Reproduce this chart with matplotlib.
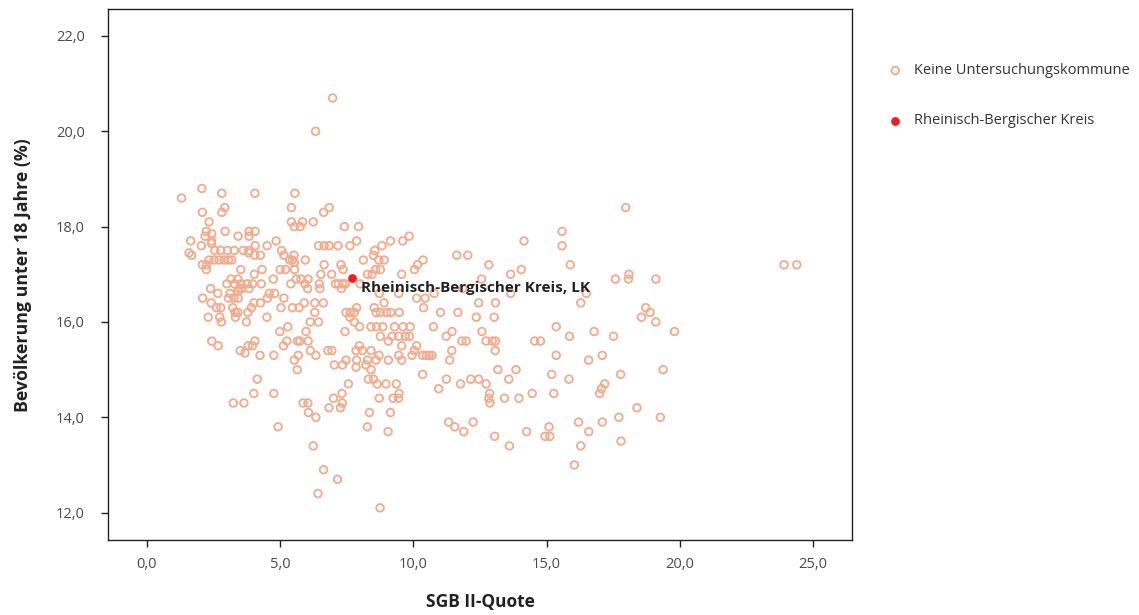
import matplotlib

matplotlib.use("Agg")
import matplotlib.pyplot as plt
from matplotlib.ticker import FuncFormatter

# SGB II-Quote (x) und Anteil der Bevölkerung unter 18 Jahren (y) je Kommune
sgb_quote = [
    1.30, 2.06, 2.81, 4.05, 5.55, 2.92, 2.81, 2.08, 2.33, 5.42,
    5.42, 5.53, 2.23, 2.43, 2.18, 2.93, 3.42, 3.83, 4.06, 3.83,
    1.64, 2.42, 2.42, 2.04, 4.06, 4.51, 4.85, 2.55, 2.77, 3.02,
    3.61, 3.83, 3.81, 4.05, 4.26, 5.05, 5.14, 5.52, 1.58, 1.68,
    3.27, 2.33, 2.52, 2.71, 2.89, 3.06, 3.18, 2.08, 2.23, 2.23,
    5.36, 5.46, 5.53, 3.52, 4.32, 5.00, 5.20, 5.54, 4.03, 3.16,
    3.41, 4.74, 5.60, 3.00, 3.28, 3.53, 3.77, 3.96, 4.29, 5.40,
    3.46, 3.42, 3.56, 3.83, 2.39, 2.66, 3.12, 4.59, 4.79, 2.09,
    3.06, 3.27, 3.43, 4.52, 5.14, 2.41, 4.01, 4.26, 2.61, 2.77,
    3.22, 3.92, 5.03, 5.46, 3.31, 3.41, 3.79, 2.30, 2.73, 2.79,
    3.32, 3.73, 4.50, 5.29,
    2.43, 2.67, 3.50, 3.68, 3.80, 3.96, 4.05, 4.24, 4.76, 4.99,
    5.25, 5.12, 5.65, 5.53, 5.68, 5.64, 4.14, 4.01, 3.24, 3.64,
    4.76, 4.92,
    6.97, 6.33, 6.84, 6.63, 5.84, 6.24, 7.41, 7.94, 6.44, 6.65,
    6.84, 7.17, 7.62, 7.87, 8.82, 9.14, 9.60, 9.84, 5.94, 6.65,
    7.28, 7.36, 8.12, 8.55, 8.50, 8.70, 8.90, 8.76, 8.58, 10.04,
    10.15, 10.36, 8.28, 8.45, 9.56, 6.53, 6.93, 5.78, 6.05, 5.93,
    6.47, 7.07, 7.18, 7.34, 7.44, 6.49, 6.03, 7.30, 8.00, 8.72,
    9.45, 10.12, 10.44, 10.78, 5.90, 6.30, 6.62, 7.47, 7.63, 7.78,
    7.87, 8.53, 8.60, 8.76, 8.90, 9.00, 9.15, 9.47, 10.38, 6.30,
    6.13, 6.44, 7.62, 7.78, 7.98, 8.41, 8.61, 8.85, 9.29, 9.61,
    9.88, 10.75, 5.75, 5.71,
    5.97, 7.43, 8.76, 9.20, 9.45, 9.70, 9.85, 5.74, 6.05, 6.13,
    6.34, 6.79, 6.94, 7.97, 7.85, 8.08, 8.41, 9.06, 9.56, 10.12,
    10.03, 9.95, 10.34, 10.48, 10.59, 10.70, 8.71, 8.60, 9.06, 9.45,
    9.56, 7.87, 8.28, 7.03, 7.34, 7.47, 7.85, 8.22, 8.41, 10.35,
    7.56, 8.31, 8.50, 8.64, 8.97, 9.36, 10.95, 7.32, 7.00, 7.33,
    7.26, 6.83, 5.86, 6.04, 6.06, 6.34, 8.72, 9.24, 9.44, 9.46,
    8.35, 9.14, 8.27, 9.05, 6.24, 6.63, 7.15, 6.42, 8.75,
    15.58, 14.15, 15.58, 11.63, 12.04, 12.83, 15.89, 14.05, 13.65, 12.56,
    17.58, 11.85, 13.65, 16.49, 12.45, 13.08, 16.28, 11.02, 11.67, 12.36,
    13.03, 15.36,
    11.23, 11.45, 11.82, 11.98, 12.57, 12.73, 12.96, 13.08, 13.07, 11.44,
    11.36, 14.55, 14.77, 15.86, 16.78, 15.36, 16.58, 13.17, 13.85, 13.58,
    15.19, 15.84, 11.24, 11.77, 12.15, 12.45, 12.73, 12.86, 12.83, 12.87,
    13.42, 13.96, 14.46, 15.27, 11.32, 11.55, 11.89, 12.24, 13.05, 13.60,
    14.25, 15.09, 14.94, 15.12, 16.20, 16.58, 16.28, 16.04,
    17.97, 23.91, 24.39, 18.09, 18.07, 19.10, 18.72, 18.56, 18.88, 19.10,
    17.51, 17.09, 17.78, 19.37, 17.18, 17.06, 16.99, 18.39, 17.71, 19.27,
    17.09, 17.79, 19.80,
]
u18_anteil = [
    18.6, 18.8, 18.7, 18.7, 18.7, 18.4, 18.3, 18.3, 18.1, 18.4,
    18.1, 18.0, 17.9, 17.85, 17.8, 17.9, 17.8, 17.9, 17.9, 17.8,
    17.7, 17.7, 17.65, 17.6, 17.6, 17.6, 17.7, 17.5, 17.5, 17.5,
    17.5, 17.5, 17.45, 17.4, 17.4, 17.5, 17.4, 17.4, 17.45, 17.4,
    17.5, 17.3, 17.3, 17.3, 17.3, 17.3, 17.3, 17.2, 17.2, 17.1,
    17.3, 17.3, 17.25, 17.1, 17.1, 17.1, 17.1, 17.1, 17.0, 16.9,
    16.9, 16.9, 16.9, 16.8, 16.8, 16.8, 16.8, 16.8, 16.8, 16.8,
    16.7, 16.65, 16.7, 16.7, 16.7, 16.6, 16.6, 16.6, 16.6, 16.5,
    16.5, 16.5, 16.5, 16.5, 16.5, 16.4, 16.4, 16.4, 16.3, 16.3,
    16.3, 16.3, 16.3, 16.3, 16.2, 16.2, 16.2, 16.1, 16.1, 16.0,
    16.1, 16.0, 16.1, 15.9,
    15.6, 15.5, 15.4, 15.35, 15.5, 15.5, 15.6, 15.3, 15.3, 15.8,
    15.6, 15.5, 15.6, 15.2, 15.3, 15.0, 14.8, 14.5, 14.3, 14.3,
    14.5, 13.8,
    20.7, 20.0, 18.4, 18.3, 18.1, 18.1, 18.0, 18.0, 17.6, 17.6,
    17.6, 17.6, 17.6, 17.7, 17.6, 17.7, 17.7, 17.8, 17.3, 17.2,
    17.2, 17.1, 17.3, 17.5, 17.4, 17.3, 17.3, 17.1, 17.1, 17.1,
    17.2, 17.3, 17.0, 17.0, 17.0, 17.0, 17.0, 16.9, 16.9, 16.8,
    16.8, 16.8, 16.8, 16.8, 16.8, 16.7, 16.7, 16.7, 16.8, 16.6,
    16.6, 16.5, 16.5, 16.6, 16.4, 16.4, 16.4, 16.2, 16.2, 16.2,
    16.3, 16.3, 16.2, 16.2, 16.4, 16.2, 16.2, 16.2, 16.3, 16.2,
    16.0, 16.0, 16.1, 16.0, 15.9, 15.9, 15.9, 15.9, 15.9, 15.9,
    15.9, 15.9, 18.0, 16.3,
    15.8, 15.8, 15.7, 15.7, 15.7, 15.7, 15.7, 15.6, 15.6, 15.4,
    15.3, 15.4, 15.4, 15.5, 15.4, 15.4, 15.4, 15.6, 15.5, 15.5,
    15.4, 15.3, 15.3, 15.3, 15.3, 15.3, 15.3, 15.2, 15.2, 15.3,
    15.2, 15.2, 15.2, 15.1, 15.1, 15.2, 15.05, 15.1, 15.0, 14.9,
    14.7, 14.8, 14.8, 14.7, 14.7, 14.7, 14.6, 14.5, 14.4, 14.3,
    14.2, 14.2, 14.3, 14.3, 14.1, 14.0, 14.4, 14.4, 14.4, 14.5,
    14.1, 14.1, 13.8, 13.7, 13.4, 12.9, 12.7, 12.4, 12.1,
    17.9, 17.7, 17.6, 17.4, 17.4, 17.2, 17.2, 17.1, 17.0, 16.9,
    16.9, 16.7, 16.6, 16.6, 16.4, 16.4, 16.4, 16.2, 16.2, 16.1,
    16.1, 15.9,
    15.7, 15.8, 15.6, 15.6, 15.8, 15.6, 15.6, 15.6, 15.4, 15.4,
    15.2, 15.6, 15.6, 15.7, 15.8, 15.3, 15.2, 15.0, 15.0, 14.8,
    14.9, 14.8, 14.8, 14.7, 14.8, 14.8, 14.7, 14.5, 14.4, 14.3,
    14.4, 14.4, 14.5, 14.5, 13.9, 13.8, 13.7, 13.9, 13.6, 13.4,
    13.7, 13.8, 13.6, 13.6, 13.9, 13.7, 13.4, 13.0,
    18.4, 17.2, 17.2, 17.0, 16.9, 16.9, 16.3, 16.1, 16.2, 16.0,
    15.7, 15.3, 14.9, 15.0, 14.7, 14.6, 14.5, 14.2, 14.0, 14.0,
    13.9, 13.5, 15.8,
]

# hervorgehobene Kommune
rbk_name = "Rheinisch-Bergischer Kreis, LK"
rbk_quote = 7.68
rbk_u18 = 16.92

x_ticks = [0, 5, 10, 15, 20, 25]
y_ticks = [12, 14, 16, 18, 20, 22]

plt.rcParams["font.family"] = ["Open Sans", "DejaVu Sans"]

fig = plt.figure(figsize=(11.39, 6.15), dpi=100)
ax = fig.add_axes([0.0951, 0.1215, 0.6529, 0.8634])

ax.scatter(sgb_quote, u18_anteil, s=30, facecolors="none", edgecolors="#F6A98A",
           linewidths=1.3, label="Keine Untersuchungskommune", zorder=2)
ax.scatter([rbk_quote], [rbk_u18], s=40, color="#E8202A", linewidths=0,
           label="Rheinisch-Bergischer Kreis", zorder=3)
ax.annotate(rbk_name, (rbk_quote, rbk_u18), xytext=(7, -7), textcoords="offset points",
            fontsize=11, fontweight="bold", color="#222222", va="center", ha="left")

ax.set_xlim(-1.45, 26.46)
ax.set_ylim(11.42, 22.56)
ax.set_xticks(x_ticks)
ax.set_yticks(y_ticks)
comma = FuncFormatter(lambda v, _: f"{v:.1f}".replace(".", ","))
ax.xaxis.set_major_formatter(comma)
ax.yaxis.set_major_formatter(comma)
ax.tick_params(axis="both", direction="out", length=5, width=1.0, color="#222222",
               labelsize=10.5, labelcolor="#4a4a4a")
ax.tick_params(axis="x", pad=7)
ax.tick_params(axis="y", pad=12)
ax.tick_params(top=False, right=False)
for spine in ax.spines.values():
    spine.set_color("#222222")
    spine.set_linewidth(1.0)

ax.set_xlabel("SGB II-Quote", fontsize=12.5, fontweight="bold", color="#222222", labelpad=15)
ax.set_ylabel("Bevölkerung unter 18 Jahre (%)", fontsize=12.8, fontweight="bold",
              color="#222222", labelpad=17)

fig.legend(loc="upper left", bbox_to_anchor=(0.7796, 0.897), frameon=False,
           handlelength=1.0, handletextpad=0.8, borderpad=0, borderaxespad=0,
           labelspacing=2.4, fontsize=10.5, labelcolor="#333333", markerscale=1.0)

fig.savefig("out.png", dpi=100)
